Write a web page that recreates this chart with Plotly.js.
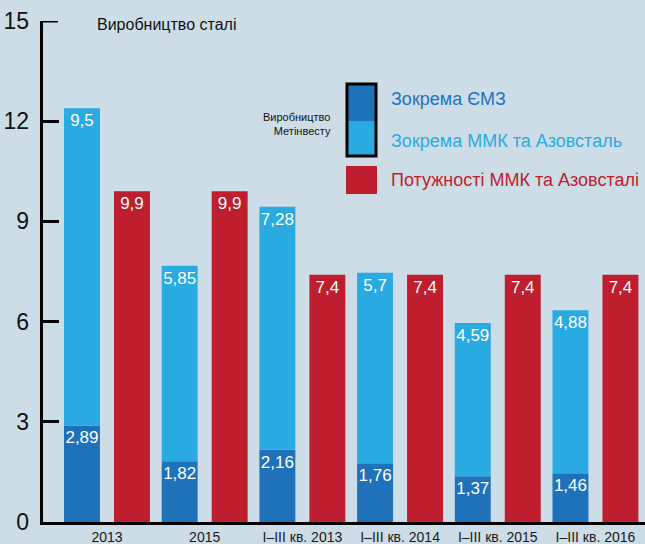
<!DOCTYPE html>
<html>
<head>
<meta charset="utf-8">
<script src="https://cdn.plot.ly/plotly-3.0.1.min.js"></script>
<style>
html,body{margin:0;padding:0;background:#cddde7;}
#chart{width:645px;height:544px;}
</style>
</head>
<body>
<div id="chart"></div>
<script>
// ---- data ----
var categories = ["2013", "2015", "I–III кв. 2013", "I–III кв. 2014", "I–III кв. 2015", "I–III кв. 2016"];
var emzValues = [2.89, 1.82, 2.16, 1.76, 1.37, 1.46];
var mmkAzovValues = [9.5, 5.85, 7.28, 5.7, 4.59, 4.88];
var capacityValues = [9.9, 9.9, 7.4, 7.4, 7.4, 7.4];
var yTicks = [0, 3, 6, 9, 12, 15];
var seriesNames = ["Зокрема ЄМЗ", "Зокрема ММК та Азовсталь", "Потужності ММК та Азовсталі"];

var cDark = "#1f72ba", cLight = "#29aae1", cRed = "#be1e2d", bg = "#cddde7";
var FONT = "Liberation Sans, Arial, sans-serif";

function fmt(v){ return String(v).replace('.', ','); }

var W = 645, H = 544, L = 43, R = 0, T = 21, B = 22;
var pw = W - L - R, ph = H - T - B;
function px(x){ return (x - L) / pw; }
function py(y){ return (H - B - y) / ph; }

var barW = 0.368, offBlue = -0.44, offRed = 0.0716;
var txtFont = {family: FONT, size: 17, color: "#ffffff"};

var traces = [
  {type: "bar", x: categories, y: emzValues, name: seriesNames[0],
   marker: {color: cDark}, width: barW, offset: offBlue,
   text: emzValues.map(fmt), textposition: "inside", insidetextanchor: "end",
   textangle: 0, constraintext: "none", insidetextfont: txtFont, hoverinfo: "y"},
  {type: "bar", x: categories, y: mmkAzovValues, base: emzValues, name: seriesNames[1],
   marker: {color: cLight}, width: barW, offset: offBlue,
   text: mmkAzovValues.map(fmt), textposition: "inside", insidetextanchor: "end",
   textangle: 0, constraintext: "none", insidetextfont: txtFont, hoverinfo: "y"},
  {type: "bar", x: categories, y: capacityValues, name: seriesNames[2],
   marker: {color: cRed}, width: barW, offset: offRed,
   text: capacityValues.map(fmt), textposition: "inside", insidetextanchor: "end",
   textangle: 0, constraintext: "none", insidetextfont: txtFont, hoverinfo: "y"}
];

// top tick (axis ends are clipped by Plotly), drawn as a shape at the top tick value
var topTick = {type: "line", xref: "paper", yref: "y", x0: 0, x1: px(58),
  y0: yTicks[yTicks.length - 1], y1: yTicks[yTicks.length - 1],
  line: {color: "#000", width: 3}};

var layout = {
  width: W, height: H,
  margin: {l: L, r: R, t: T, b: B, pad: 0},
  paper_bgcolor: bg, plot_bgcolor: bg,
  font: {family: FONT, color: "#111111"},
  barmode: "overlay",
  showlegend: false,
  xaxis: {
    type: "category", range: [-0.655, 5.507], fixedrange: true,
    showline: true, linecolor: "#000", linewidth: 3,
    ticks: "", showgrid: false, zeroline: false,
    tickfont: {family: FONT, size: 14, color: "#1a1a1a"}
  },
  yaxis: {
    range: [0, 15], tickvals: yTicks, ticktext: yTicks.map(function(v){ return v + " "; }),
    showline: true, linecolor: "#000", linewidth: 3, fixedrange: true,
    ticks: "inside", ticklen: 16, tickwidth: 3, tickcolor: "#000",
    showgrid: false, zeroline: false,
    tickfont: {family: FONT, size: 23, color: "#111"}
  },
  shapes: [
    topTick,
    {type: "rect", xref: "paper", yref: "paper", x0: px(347), x1: px(376), y0: py(121), y1: py(84), fillcolor: cDark, line: {width: 0}},
    {type: "rect", xref: "paper", yref: "paper", x0: px(347), x1: px(376), y0: py(156), y1: py(121), fillcolor: cLight, line: {width: 0}},
    {type: "rect", xref: "paper", yref: "paper", x0: px(347), x1: px(376), y0: py(156), y1: py(84), fillcolor: "rgba(0,0,0,0)", line: {width: 3, color: "#000"}},
    {type: "rect", xref: "paper", yref: "paper", x0: px(346), x1: px(377), y0: py(194), y1: py(166), fillcolor: cRed, line: {width: 0}}
  ],
  annotations: [
    {xref: "paper", yref: "paper", x: px(95), y: py(24), xanchor: "left", yanchor: "middle", showarrow: false,
     text: "Виробництво сталі", font: {family: FONT, size: 16, color: "#111"}},
    {xref: "paper", yref: "paper", x: px(333), y: py(124), xanchor: "right", yanchor: "middle", align: "right", showarrow: false,
     text: "Виробництво<br>Метінвесту", font: {family: FONT, size: 11, color: "#111"}},
    {xref: "paper", yref: "paper", x: px(389), y: py(99), xanchor: "left", yanchor: "middle", showarrow: false,
     text: seriesNames[0], font: {family: FONT, size: 18, color: cDark}},
    {xref: "paper", yref: "paper", x: px(389), y: py(141), xanchor: "left", yanchor: "middle", showarrow: false,
     text: seriesNames[1], font: {family: FONT, size: 18, color: cLight}},
    {xref: "paper", yref: "paper", x: px(389), y: py(180), xanchor: "left", yanchor: "middle", showarrow: false,
     text: seriesNames[2], font: {family: FONT, size: 18, color: cRed}}
  ]
};

Plotly.newPlot("chart", traces, layout, {displayModeBar: false});
</script>
</body>
</html>
